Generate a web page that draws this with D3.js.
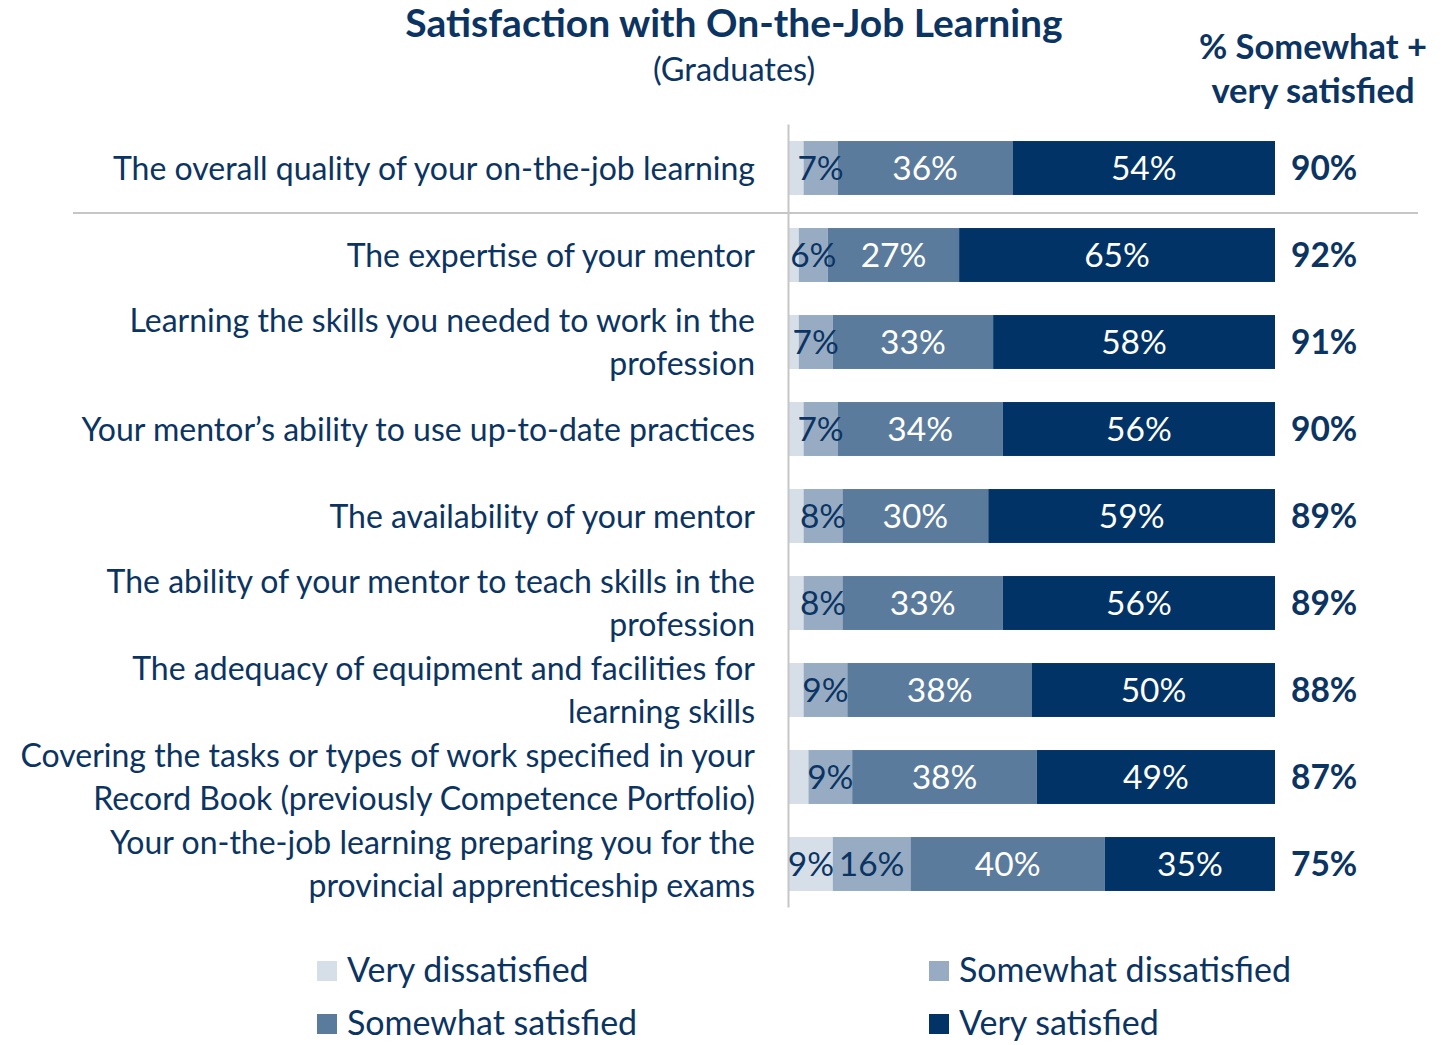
<!DOCTYPE html>
<html>
<head>
<meta charset="utf-8">
<script src="https://cdn.jsdelivr.net/npm/d3@7"></script>
<style>
  html, body { margin: 0; padding: 0; background: #fff; }
  svg { display: block; font-family: Lato, "Open Sans", sans-serif; }
</style>
</head>
<body>
<svg id="chart" width="1455" height="1045"></svg>
<script>
// Survey items (each entry is a list of wrapped lines)
const items = [
  ["The overall quality of your on-the-job learning"],
  ["The expertise of your mentor"],
  ["Learning the skills you needed to work in the", "profession"],
  ["Your mentor\u2019s ability to use up-to-date practices"],
  ["The availability of your mentor"],
  ["The ability of your mentor to teach skills in the", "profession"],
  ["The adequacy of equipment and facilities for", "learning skills"],
  ["Covering the tasks or types of work specified in your", "Record Book (previously Competence Portfolio)"],
  ["Your on-the-job learning preparing you for the", "provincial apprenticeship exams"]
];

// Percentages per response category
const veryDissatisfied     = [3, 2, 2, 3, 3, 3, 3, 4, 9];
const somewhatDissatisfied = [7, 6, 7, 7, 8, 8, 9, 9, 16];
const somewhatSatisfied    = [36, 27, 33, 34, 30, 33, 38, 38, 40];
const verySatisfied        = [54, 65, 58, 56, 59, 56, 50, 49, 35];

const seriesNames  = ["Very dissatisfied", "Somewhat dissatisfied", "Somewhat satisfied", "Very satisfied"];
const seriesColors = ["#d6dee8", "#97acc3", "#5b7b9c", "#023366"];
const labelColors  = ["#0b3463", "#0b3463", "#ffffff", "#ffffff"];
const seriesValues = [veryDissatisfied, somewhatDissatisfied, somewhatSatisfied, verySatisfied];

const navy = "#0b3463";

const svg = d3.select("#chart");

// Layout
const barLeft = 789, barRight = 1275;
const plotTop = 124.5, plotBottom = 907.5;

const x = d3.scaleLinear().domain([0, 100]).range([barLeft, barRight]);
const y = d3.scaleBand().domain(d3.range(items.length)).range([plotTop, plotBottom]).paddingInner(0.38).paddingOuter(0.19);

// Stack the four categories
const rows = items.map((_, i) => {
  const r = { index: i };
  seriesNames.forEach((n, k) => r[n] = seriesValues[k][i]);
  return r;
});
const stacked = d3.stack().keys(seriesNames)(rows);

// Title
svg.append("text")
  .attr("x", 734).attr("y", 37)
  .attr("text-anchor", "middle")
  .attr("font-size", 39).attr("font-weight", "bold")
  .attr("fill", navy)
  .text("Satisfaction with On-the-Job Learning");
svg.append("text")
  .attr("x", 734).attr("y", 81)
  .attr("text-anchor", "middle")
  .attr("font-size", 32.5)
  .attr("fill", navy)
  .text("(Graduates)");

// Column header for totals
svg.append("text")
  .attr("x", 1313).attr("y", 59)
  .attr("text-anchor", "middle")
  .attr("font-size", 34.5).attr("font-weight", "bold")
  .attr("fill", navy)
  .selectAll("tspan")
  .data(["% Somewhat +", "very satisfied"])
  .join("tspan")
  .attr("x", 1313)
  .attr("dy", (d, i) => i === 0 ? 0 : 44)
  .text(d => d);

// Separator under the overall item
svg.append("line")
  .attr("x1", 73).attr("x2", 1418)
  .attr("y1", 213).attr("y2", 213)
  .attr("stroke", "#c6c6c6").attr("stroke-width", 2);

// Bars
const layers = svg.append("g").selectAll("g")
  .data(stacked)
  .join("g")
  .attr("fill", (d, k) => seriesColors[k]);

layers.selectAll("rect")
  .data(d => d)
  .join("rect")
  .attr("x", d => x(d[0]))
  .attr("width", d => x(d[1]) - x(d[0]))
  .attr("y", d => y(d.data.index))
  .attr("height", y.bandwidth());

// Vertical axis line
svg.append("line")
  .attr("x1", barLeft - 0.5).attr("x2", barLeft - 0.5)
  .attr("y1", plotTop).attr("y2", plotBottom)
  .attr("stroke", "#c6c6c6").attr("stroke-width", 2);

// Segment value labels
stacked.forEach((layer, k) => {
  svg.append("g").selectAll("text")
    .data(layer.filter(d => d[1] - d[0] >= 5))
    .join("text")
    .attr("x", d => x((d[0] + d[1]) / 2))
    .attr("y", d => y(d.data.index) + y.bandwidth() / 2)
    .attr("dy", "0.36em")
    .attr("text-anchor", "middle")
    .attr("font-size", 33.5)
    .attr("fill", labelColors[k])
    .text(d => (d[1] - d[0]) + "%");
});

// Totals (somewhat + very satisfied)
svg.append("g").selectAll("text")
  .data(rows)
  .join("text")
  .attr("x", 1291)
  .attr("y", d => y(d.index) + y.bandwidth() / 2)
  .attr("dy", "0.36em")
  .attr("font-size", 33.5).attr("font-weight", "bold")
  .attr("fill", navy)
  .text(d => (d["Somewhat satisfied"] + d["Very satisfied"]) + "%");

// Item labels
const lineGap = 43;
svg.append("g").selectAll("text")
  .data(items)
  .join("text")
  .attr("text-anchor", "end")
  .attr("font-size", 32)
  .attr("fill", navy)
  .each(function(lines, i) {
    const cy = y(i) + y.bandwidth() / 2;
    d3.select(this).selectAll("tspan")
      .data(lines)
      .join("tspan")
      .attr("x", 755)
      .attr("y", (d, j) => cy + (j - (lines.length - 1) / 2) * lineGap)
      .attr("dy", "0.36em")
      .text(d => d);
  });

// Legend
const legendPos = [[317, 970], [929, 970], [317, 1023], [929, 1023]];
const legend = svg.append("g").selectAll("g")
  .data(seriesNames)
  .join("g")
  .attr("transform", (d, k) => `translate(${legendPos[k][0]},${legendPos[k][1]})`);
legend.append("rect")
  .attr("x", 0).attr("y", -9)
  .attr("width", 20).attr("height", 20)
  .attr("fill", (d, k) => seriesColors[k]);
legend.append("text")
  .attr("x", 30).attr("y", 0).attr("dy", "0.36em")
  .attr("font-size", 34)
  .attr("fill", navy)
  .text(d => d);
</script>
</body>
</html>
